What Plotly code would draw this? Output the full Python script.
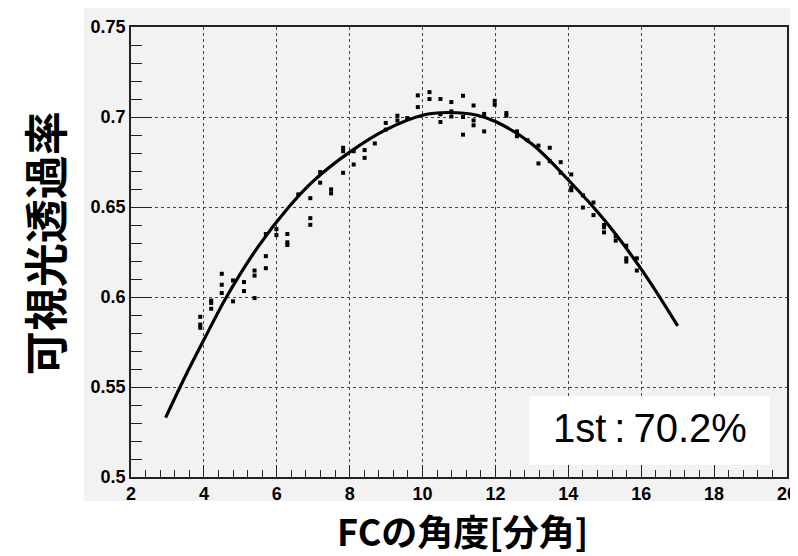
import plotly.graph_objects as go

# ---- data ----
meas_x = [3.90, 3.90, 3.90, 4.20, 4.20, 4.20, 4.49, 4.49, 4.49, 4.80, 4.80,
          5.10, 5.10, 5.39, 5.39, 5.39, 5.70, 5.70, 5.70, 5.99, 5.99,
          6.29, 6.29, 6.29, 6.59, 6.92, 6.92, 6.92, 7.19, 7.19, 7.49, 7.49,
          7.82, 7.82, 7.82, 8.11, 8.11, 8.41, 8.41, 8.69, 8.99, 8.99,
          9.31, 9.31, 9.58, 9.87, 9.87, 10.19, 10.19, 10.49, 10.49, 10.49,
          10.79, 10.79, 10.79, 11.11, 11.11, 11.11, 11.40, 11.40, 11.40,
          11.69, 11.69, 11.98, 11.98, 12.30, 12.30, 12.59, 12.59, 12.88,
          13.18, 13.18, 13.49, 13.49, 13.79, 13.79, 14.08, 14.08, 14.08,
          14.40, 14.40, 14.69, 14.69, 14.98, 14.98, 14.98, 15.30, 15.30,
          15.59, 15.59, 15.59, 15.88, 15.88]
meas_y = [0.589, 0.5847, 0.5829, 0.598, 0.5967, 0.5935, 0.6129, 0.6068, 0.6022, 0.6092, 0.5976,
          0.6083, 0.6033, 0.6147, 0.6119, 0.5994, 0.6227, 0.616, 0.635, 0.6377, 0.6344,
          0.635, 0.6304, 0.6289, 0.657, 0.6549, 0.6438, 0.6401, 0.6694, 0.6635, 0.6598, 0.6576,
          0.6829, 0.681, 0.669, 0.681, 0.6736, 0.6816, 0.6773, 0.6853, 0.693, 0.6967,
          0.7007, 0.6981, 0.6994, 0.712, 0.7055, 0.7138, 0.710, 0.710, 0.6972, 0.7015,
          0.7083, 0.7031, 0.7003, 0.7118, 0.6902, 0.700, 0.7064, 0.6981, 0.6954,
          0.7017, 0.692, 0.709, 0.7068, 0.7022, 0.7007, 0.692, 0.6893, 0.6871,
          0.6841, 0.6742, 0.6829, 0.6755, 0.6749, 0.669, 0.6681, 0.6608, 0.6593,
          0.6565, 0.6497, 0.6525, 0.6455, 0.640, 0.6387, 0.6359, 0.6337, 0.6313,
          0.6285, 0.6215, 0.6197, 0.6215, 0.6147]

fit_x = [2.95, 3.5, 4.0, 4.62, 5.5, 6.33, 7.0, 8.0, 9.0, 10.0, 10.7,
         11.5, 12.0, 13.0, 14.0, 15.0, 16.0, 17.0]
fit_y = [0.533, 0.5564, 0.5762, 0.600, 0.6283, 0.650, 0.6644, 0.6805, 0.693,
         0.701, 0.7025, 0.701, 0.6975, 0.685, 0.665, 0.6425, 0.6155, 0.584]

x_title = "FCの角度[分角]"
y_title = "可視光透過率"
label_text = "1st\u2009:\u200970.2%"

# ---- figure ----
W, H = 798, 556
L, R, T, B = 123, 9, 17, 87
pw, ph = W - L - R, H - T - B


def px(xp):
    return (xp - L) / pw


def py(yp):
    return (H - B - yp) / ph


fig = go.Figure()
fig.add_trace(go.Scatter(x=fit_x, y=fit_y, mode="lines",
                         line=dict(color="black", width=3.2, shape="spline", smoothing=1.0),
                         hoverinfo="skip"))
fig.add_trace(go.Scatter(x=meas_x, y=meas_y, mode="markers",
                         marker=dict(symbol="square", size=4, color="black", line=dict(width=0))))

tickfont = dict(family="Liberation Sans, Arial, sans-serif", size=18, color="black", weight="bold")
axis_common = dict(showline=True, mirror=True, linecolor="#222", linewidth=1.5,
                   ticks="inside", tickcolor="#222", tickwidth=1,
                   showgrid=True, gridcolor="#444", griddash="dot", gridwidth=1,
                   zeroline=False, tickfont=tickfont)

fig.update_xaxes(range=[2, 20], tick0=2, dtick=2, ticklen=12,
                 minor=dict(ticks="inside", dtick=0.4, ticklen=7, tickcolor="#222", showgrid=False),
                 **axis_common)
fig.update_yaxes(range=[0.5, 0.75], tick0=0.5, dtick=0.05, ticklen=21,
                 minor=dict(ticks="inside", dtick=0.01, ticklen=11, tickcolor="#222", showgrid=False),
                 **axis_common)

shapes = [
    dict(type="rect", xref="paper", yref="paper", layer="below",
         x0=px(75), x1=px(800), y0=py(493), y1=py(-2),
         fillcolor="#f2f2f2", line=dict(width=0)),
    dict(type="rect", xref="paper", yref="paper", layer="above",
         x0=px(527), x1=px(771), y0=py(457), y1=py(388),
         fillcolor="white", line=dict(width=0)),
]

annotations = [
    dict(text=label_text, xref="paper", yref="paper", x=px(650), y=py(420),
         showarrow=False, xanchor="center", yanchor="middle",
         font=dict(family="Liberation Sans, Arial, sans-serif", size=40, color="black")),
    dict(text=y_title, xref="paper", yref="paper", x=px(35), y=py(234),
         showarrow=False, xanchor="center", yanchor="middle", textangle=-90,
         font=dict(family="Noto Sans CJK JP, sans-serif", size=44, color="black", weight="bold")),
    dict(text=x_title, xref="paper", yref="paper", x=px(460), y=py(522),
         showarrow=False, xanchor="center", yanchor="middle",
         font=dict(family="Noto Sans CJK JP, sans-serif", size=36, color="black", weight="bold")),
]

fig.update_layout(width=W, height=H, margin=dict(l=L, r=R, t=T, b=B),
                  paper_bgcolor="white", plot_bgcolor="#f2f2f2",
                  showlegend=False, shapes=shapes, annotations=annotations)

fig.write_html("out.html")
